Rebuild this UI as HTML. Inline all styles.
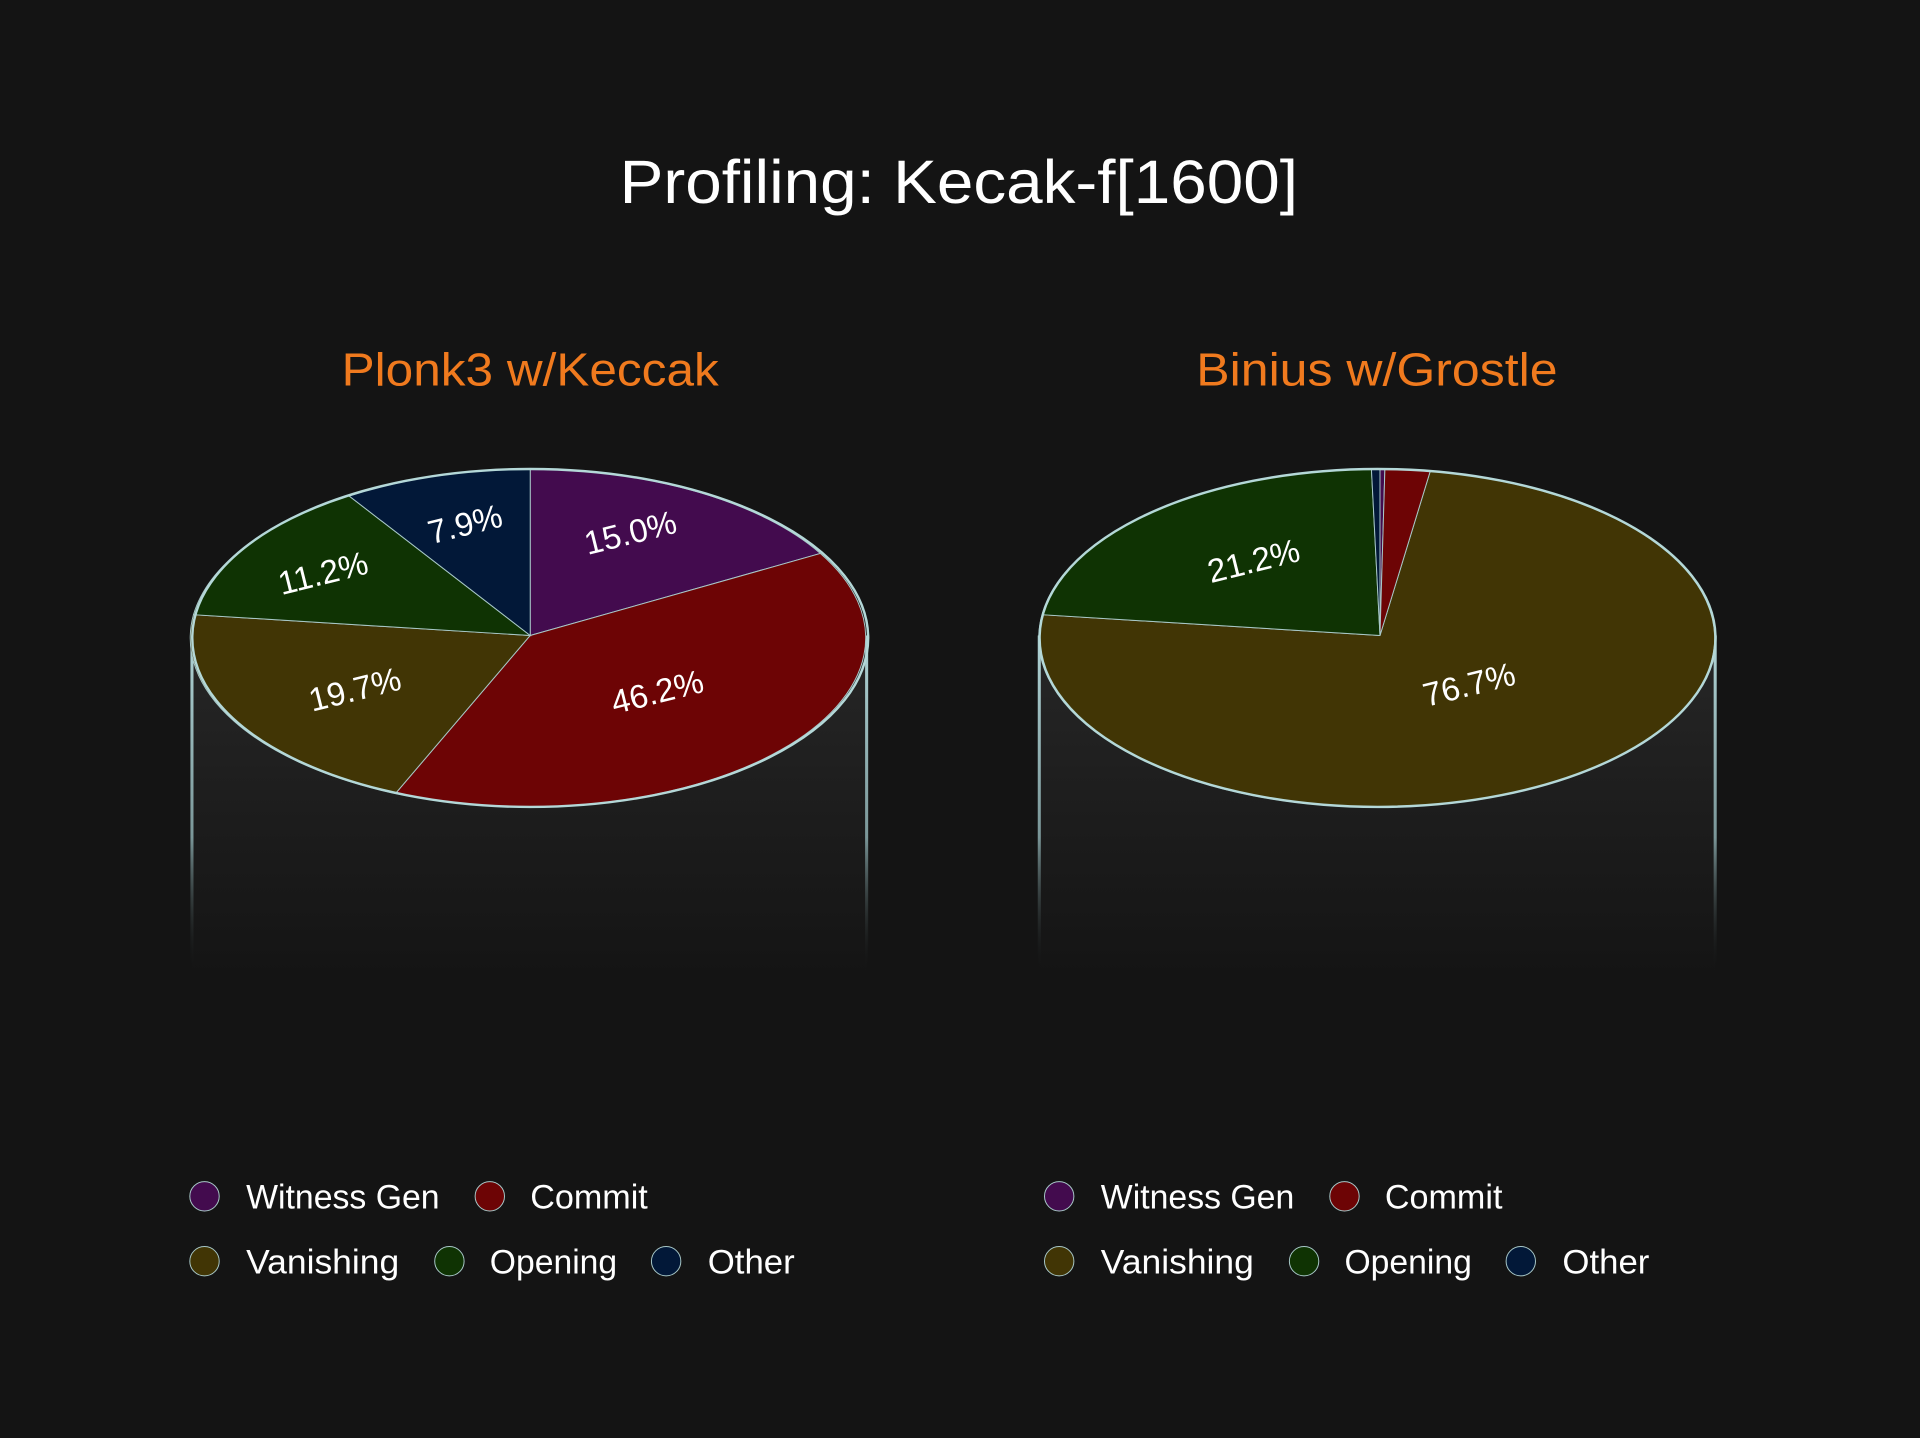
<!DOCTYPE html>
<html><head><meta charset="utf-8"><style>
html,body{margin:0;padding:0;background:#141414;}
svg{display:block}
text{font-family:"Liberation Sans Narrow","Liberation Sans",sans-serif;}
</style></head><body>
<svg width="1920" height="1438" viewBox="0 0 1568 1174.4" xmlns="http://www.w3.org/2000/svg">
<defs>
<linearGradient id="body" x1="0" y1="0" x2="0" y2="1">
<stop offset="0" stop-color="#272727"/><stop offset="0.55" stop-color="#1c1c1c"/><stop offset="1" stop-color="#141414"/>
</linearGradient>
<linearGradient id="side" x1="0" y1="0" x2="0" y2="1">
<stop offset="0" stop-color="#b0d4d6"/><stop offset="0.6" stop-color="#7a9698"/><stop offset="1" stop-color="#141414" stop-opacity="0"/>
</linearGradient>
</defs>
<rect width="1568" height="1175" fill="#141414"/>
<text x="506" y="166" fill="#fff" font-size="50" textLength="554" lengthAdjust="spacingAndGlyphs">Profiling: Kecak-f[1600]</text>
<text x="279" y="315" fill="#f07a1e" font-size="38" textLength="308" lengthAdjust="spacingAndGlyphs">Plonk3 w/Keccak</text>
<text x="977" y="315" fill="#f07a1e" font-size="38" textLength="295" lengthAdjust="spacingAndGlyphs">Binius w/Grostle</text>

<g>
<path d="M157 519 L157 800 L708 800 L708 519 Z" fill="url(#body)"/>
<rect x="155.5" y="519" width="2.5" height="275" fill="url(#side)"/>
<rect x="706.5" y="519" width="2.5" height="275" fill="url(#side)"/>
<g stroke="#a8c8c8" stroke-width="0.8">
<path d="M433 519 L433 383 A276 138 0 0 1 670 452 Z" fill="#430b4e"/>
<path d="M433 519 L670 452 A276 138 0 0 1 323 648 Z" fill="#6d0405"/>
<path d="M433 519 L323 648 A276 138 0 0 1 158 502 Z" fill="#413505"/>
<path d="M433 519 L158 502 A276 138 0 0 1 285 405 Z" fill="#0f3303"/>
<path d="M433 519 L285 405 A276 138 0 0 1 433 383 Z" fill="#021838"/>
</g>
<ellipse cx="433" cy="521" rx="276" ry="138" fill="none" stroke="#b4d8d8" stroke-width="2"/>
<g fill="#fff" font-size="27" text-anchor="middle">
<text transform="translate(517,444) rotate(-14)">15.0%</text>
<text transform="translate(539,574) rotate(-14)">46.2%</text>
<text transform="translate(292,572) rotate(-14)">19.7%</text>
<text transform="translate(266,477) rotate(-14)">11.2%</text>
<text transform="translate(382,437) rotate(-14)">7.9%</text>
</g>
</g>

<g>
<path d="M849 519 L849 800 L1401 800 L1401 519 Z" fill="url(#body)"/>
<rect x="847.5" y="519" width="2.5" height="275" fill="url(#side)"/>
<rect x="1399.5" y="519" width="2.5" height="275" fill="url(#side)"/>
<g stroke="#a8c8c8" stroke-width="0.8">
<path d="M1127 519 L1168 385 A276 138 0 1 1 851 502 Z" fill="#413505"/>
<path d="M1127 519 L851 502 A276 138 0 0 1 1120 383 Z" fill="#0f3303"/>
<path d="M1127 519 L1120 383 A276 138 0 0 1 1127 383 Z" fill="#021838"/>
<path d="M1127 519 L1127 383 A276 138 0 0 1 1131 383 Z" fill="#430b4e"/>
<path d="M1127 519 L1131 383 A276 138 0 0 1 1168 385 Z" fill="#6d0405"/>
</g>
<ellipse cx="1125" cy="521" rx="276" ry="138" fill="none" stroke="#b4d8d8" stroke-width="2"/>
<g fill="#fff" font-size="27" text-anchor="middle">
<text transform="translate(1026,467) rotate(-14)">21.2%</text>
<text transform="translate(1202,568) rotate(-14)">76.7%</text>
</g>
</g>

<g stroke="#a8c8c8" stroke-width="0.8">
<g>
<circle cx="167" cy="977" r="12" fill="#430b4e"/>
<circle cx="400" cy="977" r="12" fill="#6d0405"/>
<circle cx="167" cy="1030" r="12" fill="#413505"/>
<circle cx="367" cy="1030" r="12" fill="#0f3303"/>
<circle cx="544" cy="1030" r="12" fill="#021838"/>
</g>
<g transform="translate(698,0)">
<circle cx="167" cy="977" r="12" fill="#430b4e"/>
<circle cx="400" cy="977" r="12" fill="#6d0405"/>
<circle cx="167" cy="1030" r="12" fill="#413505"/>
<circle cx="367" cy="1030" r="12" fill="#0f3303"/>
<circle cx="544" cy="1030" r="12" fill="#021838"/>
</g>
</g>
<g font-size="28" fill="#fff">
<text x="201" y="987" textLength="158" lengthAdjust="spacingAndGlyphs">Witness Gen</text>
<text x="433" y="987" textLength="96" lengthAdjust="spacingAndGlyphs">Commit</text>
<text x="201" y="1040" textLength="125" lengthAdjust="spacingAndGlyphs">Vanishing</text>
<text x="400" y="1040" textLength="104" lengthAdjust="spacingAndGlyphs">Opening</text>
<text x="578" y="1040" textLength="71" lengthAdjust="spacingAndGlyphs">Other</text>
<g transform="translate(698,0)">
<text x="201" y="987" textLength="158" lengthAdjust="spacingAndGlyphs">Witness Gen</text>
<text x="433" y="987" textLength="96" lengthAdjust="spacingAndGlyphs">Commit</text>
<text x="201" y="1040" textLength="125" lengthAdjust="spacingAndGlyphs">Vanishing</text>
<text x="400" y="1040" textLength="104" lengthAdjust="spacingAndGlyphs">Opening</text>
<text x="578" y="1040" textLength="71" lengthAdjust="spacingAndGlyphs">Other</text>
</g>
</g>
</svg>
</body></html>
